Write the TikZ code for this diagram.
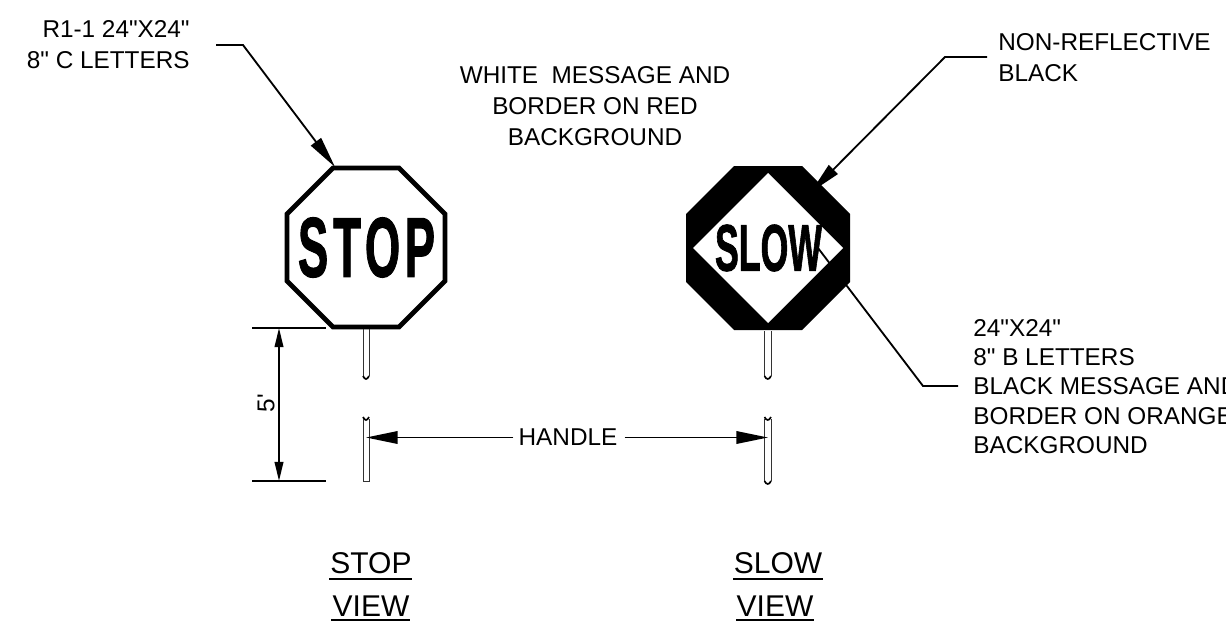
\documentclass[tikz,border=0pt]{standalone}
\usepackage{fontspec}
\usepackage{graphicx}
\newfontfamily\drawFont{Liberation Sans}
\newfontfamily\signFont[FakeBold=1.6]{Liberation Sans Bold}
\usetikzlibrary{arrows.meta}
\tikzset{
  noteText/.style={inner sep=0pt,font=\drawFont\fontsize{14.6}{18.5}\selectfont,align=#1},
  noteText/.default=center,
  viewText/.style={inner sep=0pt,font=\drawFont\fontsize{18}{18}\selectfont},
  signFace/.style={line width=2.9pt,line join=miter,draw=black,fill=white},
  leader/.style={line width=1.1pt},
  bigTip/.style={-{Triangle[length=19pt,width=7.5pt]}},
  dimTip/.style={{Triangle[length=11.5pt,width=5.2pt]}-{Triangle[length=11.5pt,width=5.2pt]}},
  handleBar/.style={line width=.6pt,draw=black!80},
  breakMark/.style={line width=1pt}
}

\begin{document}
\begin{tikzpicture}[x=.6pt,y=-.6pt]
  \clip (0,0) rectangle (1226,627);
  \fill[white] (0,0) rectangle (1226,627);
  % Stop sign
  \draw[signFace] (333,168) -- (399,168) -- (445,214) -- (445,281) -- (399,327) -- (333,327) -- (287,281) -- (287,214) -- cycle;
  \node[inner sep=0pt] (stopWord) at (366.5,247.5) {\resizebox{82.2pt}{35.4pt}{\signFont S\kern.11em T\kern.09em O\kern.1em P}};
  % Slow sign
  \fill (734,166) -- (802,166) -- (850,214) -- (850,282) -- (802,330) -- (734,330) -- (686,282) -- (686,214) -- cycle;
  \fill[white] (768,173) -- (843,248) -- (768,323) -- (693,248) -- cycle;
  \node[inner sep=0pt] (slowWord) at (768.5,248) {\resizebox{64.2pt}{27.6pt}{\signFont SLOW}};
  % Handles
  \draw[handleBar] (363,329) -- (363,376);
  \draw[handleBar] (369,329) -- (369,376);
  \draw[breakMark] (363,376) .. controls (365,380) and (367,380) .. (369,376);
  \draw[breakMark] (363,417) .. controls (365,421) and (367,421) .. (369,417);
  \draw[handleBar] (363,419) -- (363,481) -- (369,481) -- (369,419);
  \draw[handleBar] (764.5,331) -- (764.5,376);
  \draw[handleBar] (771,331) -- (771,376);
  \draw[breakMark] (764.5,376) .. controls (766.5,380) and (769,380) .. (771,376);
  \draw[breakMark] (764.5,417) .. controls (766.5,421) and (769,421) .. (771,417);
  \draw[handleBar] (764.5,419) -- (764.5,481);
  \draw[handleBar] (771,419) -- (771,481);
  \draw[breakMark] (764.5,481) .. controls (766.5,485) and (769,485) .. (771,481);
  % Five foot dimension
  \coordinate (dimTop) at (279,328);
  \coordinate (dimBot) at (279,481);
  \draw[leader] (252,328) -- (326,328);
  \draw[leader] (252,481) -- (326,481);
  \draw[leader,dimTip] (dimTop) -- (dimBot);
  \node[noteText,rotate=90] (fiveFt) at (266,403) {5'};
  % Handle label
  \node[noteText] (handleLabel) at (568,437.5) {HANDLE};
  \coordinate (stopBar) at (366,437.5);
  \coordinate (slowBar) at (768,437.5);
  \draw[leader,bigTip] (handleLabel.west) ++(-5,0) -- (stopBar);
  \draw[leader,bigTip] (handleLabel.east) ++(7,0) -- (slowBar);
  % Notes
  \node[noteText=right,anchor=north east] (stopNote) at (190,20) {R1-1 24"X24"\\8" C LETTERS};
  \coordinate (stopStart) at (216,45);
  \coordinate (stopKnee) at (243,45);
  \coordinate (stopTip) at (335,167);
  \draw[leader,bigTip] (stopStart) -- (stopKnee) -- (stopTip);
  \node[noteText] (redNote) at (595,106) {WHITE\ \ MESSAGE AND\\BORDER ON RED\\BACKGROUND};
  \node[noteText=left,anchor=north west] (blackNote) at (998,33) {NON-REFLECTIVE\\BLACK};
  \coordinate (blackStart) at (987,57);
  \coordinate (blackKnee) at (945,57);
  \coordinate (blackTip) at (811,192);
  \draw[leader,bigTip] (blackStart) -- (blackKnee) -- (blackTip);
  \node[noteText=left,anchor=north west,font=\drawFont\fontsize{14.6}{17.6}\selectfont] (orangeNote) at (973,319) {24"X24"\\8" B LETTERS\\BLACK MESSAGE AND\\BORDER ON ORANGE\\BACKGROUND};
  \coordinate (orangeStart) at (818,248);
  \coordinate (orangeKnee) at (923,386);
  \coordinate (orangeEnd) at (958,386);
  \draw[leader] (orangeStart) -- (orangeKnee) -- (orangeEnd);
  % View titles
  \node[viewText] (stopView) at (371,563) {STOP};
  \node[viewText] (stopViewB) at (371,606) {VIEW};
  \node[viewText] (slowView) at (778,563) {SLOW};
  \node[viewText] (slowViewB) at (775,606) {VIEW};
  \draw[leader] (329,579) -- (412,579);
  \draw[leader] (331,620) -- (410,620);
  \draw[leader] (733,579) -- (823,579);
  \draw[leader] (736,620) -- (814,620);
\end{tikzpicture}
\end{document}
